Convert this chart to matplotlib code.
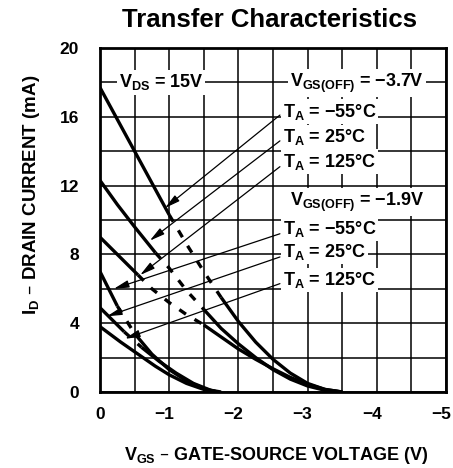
import matplotlib
matplotlib.use("Agg")
import matplotlib.pyplot as plt
from matplotlib.transforms import ScaledTranslation

plt.rcParams['mathtext.default'] = 'regular'

FONT = ['Liberation Sans', 'DejaVu Sans']

# curve data: (VGS [V], ID [mA])
vgs_a = [0, -0.5, -1.0, -1.25, -1.5, -1.75, -2.0, -2.25, -2.5, -2.75, -3.0, -3.25, -3.5]
id_a = [17.7, 14.0, 10.3, 8.6, 7.0, 5.5, 4.1, 2.9, 1.9, 1.1, 0.5, 0.15, 0.0]

vgs_b = [0, -0.25, -0.5, -0.8, -1.0, -1.25, -1.5, -1.75, -2.0, -2.25, -2.5, -2.75, -3.0, -3.25, -3.5]
id_b = [12.3, 10.9, 9.6, 8.1, 7.2, 5.9, 4.8, 3.7, 2.8, 2.0, 1.3, 0.75, 0.35, 0.1, 0.0]

vgs_c = [0, -0.1, -0.3, -0.55, -0.75, -1.0, -1.25, -1.5, -1.75, -2.0, -2.25, -2.5, -2.75, -3.0, -3.25, -3.5]
id_c = [9.0, 8.6, 7.8, 6.8, 6.0, 5.2, 4.5, 3.9, 3.2, 2.5, 1.9, 1.35, 0.85, 0.45, 0.15, 0.0]

vgs_d = [0, -0.1, -0.25, -0.5, -0.75, -1.0, -1.25, -1.5, -1.7]
id_d = [7.0, 6.2, 5.0, 3.4, 2.2, 1.3, 0.65, 0.2, 0.0]

vgs_e = [0, -0.2, -0.35, -0.6, -0.85, -1.1, -1.35, -1.6, -1.75]
id_e = [4.9, 4.1, 3.5, 2.6, 1.8, 1.1, 0.5, 0.1, 0.0]

vgs_f = [0, -0.3, -0.55, -0.8, -1.0, -1.25, -1.5, -1.7]
id_f = [3.8, 2.9, 2.2, 1.5, 1.0, 0.5, 0.15, 0.0]

x_ticks = [0, -1, -2, -3, -4, -5]
x_tick_labels = ['0', '\u22121', '\u22122', '\u22123', '\u22124', '\u22125']
y_ticks = [0, 4, 8, 12, 16, 20]

group_labels = ['$V_{GS(OFF)}$ = \u22123.7V', '$V_{GS(OFF)}$ = \u22121.9V']
temp_labels = ['$T_A$ = \u221255\u00b0C', '$T_A$ = 25\u00b0C', '$T_A$ = 125\u00b0C']

# arrow tips on the curves, one per temperature label
tips_g1 = [(-0.94, 10.7), (-0.72, 8.8), (-0.58, 6.8)]
tips_g2 = [(-0.2, 6.0), (-0.1, 4.4), (-0.36, 3.1)]

fig = plt.figure(figsize=(4.53, 4.68), dpi=100)
ax = fig.add_axes([100 / 453, 1 - 392 / 468, 346 / 453, 344 / 468])


def draw_curve(v, i, dash_from=None, dash_to=None):
    # solid part, dashed middle part (where the scan is broken), solid tail
    kw = dict(color='black', lw=2.4, solid_capstyle='butt', zorder=3)
    if dash_from is None:
        ax.plot(v, i, **kw)
        return
    k0 = v.index(dash_from)
    k1 = v.index(dash_to)
    ax.plot(v[:k0 + 1], i[:k0 + 1], **kw)
    ax.plot(v[k0:k1 + 1], i[k0:k1 + 1], dashes=(2.4, 3), **kw)
    ax.plot(v[k1:], i[k1:], **kw)


draw_curve(vgs_a, id_a, -1.0, -1.75)
draw_curve(vgs_b, id_b, -0.8, -1.5)
draw_curve(vgs_c, id_c, -0.55, -1.5)
draw_curve(vgs_d, id_d, -0.25, -0.5)
draw_curve(vgs_e, id_e, -0.35, -0.6)
draw_curve(vgs_f, id_f)

ax.set_xlim(0, -5)
ax.set_ylim(0, 20)
ax.set_xticks(x_ticks)
ax.set_xticklabels(x_tick_labels)
ax.set_xticks([-0.5, -1.5, -2.5, -3.5, -4.5], minor=True)
ax.set_yticks(y_ticks)
ax.set_yticks([2, 6, 10, 14, 18], minor=True)
ax.grid(True, which='both', color='black', lw=1.1)
ax.set_axisbelow(True)
ax.tick_params(which='both', length=0)
ax.tick_params(axis='x', pad=11)
ax.tick_params(axis='y', pad=15)
for lbl in ax.get_xticklabels() + ax.get_yticklabels():
    lbl.set_family(FONT)
    lbl.set_fontweight('bold')
    lbl.set_fontsize(12.5)
# negative labels sit a little left so the digit is over the grid line
shift = ScaledTranslation(-5 / 100, 0, fig.dpi_scale_trans)
for lbl in ax.get_xticklabels()[1:]:
    lbl.set_transform(lbl.get_transform() + shift)
for s in ax.spines.values():
    s.set_linewidth(2)

box = dict(facecolor='white', edgecolor='none', pad=1.5)
txt = dict(family=FONT, fontweight='bold', fontsize=13, va='center', ha='left', zorder=5)

ax.text(-0.27, 18.0, '$V_{DS}$ = 15V', bbox=box, **txt)

ax.text(-2.75, 17.95, group_labels[0], bbox=box, **txt)
ax.text(-2.75, 11.05, group_labels[1], bbox=box, **txt)
for lab, y in zip(temp_labels, [16.3, 14.8, 13.4]):
    ax.text(-2.64, y, lab, bbox=box, **txt)
for lab, y in zip(temp_labels, [9.5, 8.15, 6.5]):
    ax.text(-2.64, y, lab, bbox=box, **txt)

arrow = dict(arrowstyle='-|>,head_length=0.9,head_width=0.22', color='black', lw=0.9,
             shrinkA=0, shrinkB=0)
for tip, y in zip(tips_g1, [16.1, 14.6, 13.1]):
    ax.annotate('', xy=tip, xytext=(-2.6, y), arrowprops=arrow, zorder=4)
for tip, y in zip(tips_g2, [9.2, 7.85, 6.3]):
    ax.annotate('', xy=tip, xytext=(-2.6, y), arrowprops=arrow, zorder=4)

fig.text(269 / 453, 1 - 20 / 468, 'Transfer Characteristics', ha='center', va='center',
         family=FONT, fontweight='bold', fontsize=18.5)
fig.text(32 / 453, 1 - 195 / 468, '$I_D$ \u2013 DRAIN CURRENT (mA)', rotation=90,
         ha='center', va='center', family=FONT, fontweight='bold', fontsize=13.5)
fig.text(276 / 453, 1 - 455 / 468, '$V_{GS}$ \u2013 GATE-SOURCE VOLTAGE (V)',
         ha='center', va='center', family=FONT, fontweight='bold', fontsize=13)

fig.savefig('out.png', dpi=100)
